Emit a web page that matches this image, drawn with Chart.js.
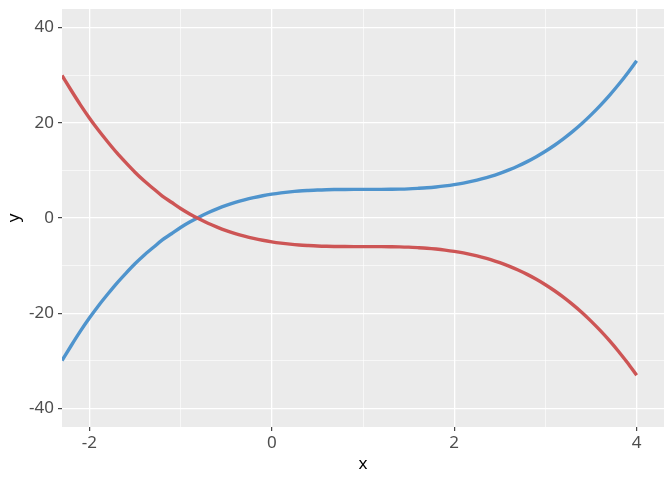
<!DOCTYPE html>
<html>
<head>
<meta charset="utf-8">
<script src="https://cdn.jsdelivr.net/npm/chart.js@4"></script>
<style>
  html, body { margin: 0; padding: 0; background: #ffffff; }
  #wrap { width: 672px; height: 480px; }
</style>
</head>
<body>
<div id="wrap"><canvas id="chart"></canvas></div>
<script>
// values
const xValues = [-2.3, -2.2, -2.1, -2.0, -1.9, -1.8, -1.7, -1.6, -1.5, -1.4, -1.3, -1.2, -1.1, -1.0,
  -0.9, -0.8, -0.7, -0.6, -0.5, -0.4, -0.3, -0.2, -0.1, 0.0, 0.1, 0.2, 0.3, 0.4, 0.5, 0.6, 0.7,
  0.8, 0.9, 1.0, 1.1, 1.2, 1.3, 1.4, 1.5, 1.6, 1.7, 1.8, 1.9, 2.0, 2.1, 2.2, 2.3, 2.4, 2.5, 2.6,
  2.7, 2.8, 2.9, 3.0, 3.1, 3.2, 3.3, 3.4, 3.5, 3.6, 3.7, 3.8, 3.9, 4.0];

const blueY = [-29.9, -26.8, -23.8, -21.0, -18.4, -16.0, -13.7, -11.6, -9.6, -7.8, -6.2, -4.6, -3.3, -2.0,
  -0.86, 0.17, 1.09, 1.9, 2.63, 3.26, 3.8, 4.27, 4.67, 5.0, 5.27, 5.49, 5.66, 5.78, 5.88, 5.94, 5.97,
  5.99, 6.0, 6.0, 6.0, 6.01, 6.03, 6.06, 6.12, 6.22, 6.34, 6.51, 6.73, 7.0, 7.33, 7.73, 8.2, 8.74, 9.38, 10.1,
  10.91, 11.83, 12.86, 14.0, 15.26, 16.65, 18.17, 19.82, 21.63, 23.58, 25.68, 27.95, 30.39, 33.0];

const redY = [29.9, 26.8, 23.8, 21.0, 18.4, 16.0, 13.7, 11.6, 9.6, 7.8, 6.2, 4.6, 3.3, 2.0,
  0.86, -0.17, -1.09, -1.9, -2.63, -3.26, -3.8, -4.27, -4.67, -5.0, -5.27, -5.49, -5.66, -5.78, -5.88, -5.94, -5.97,
  -5.99, -6.0, -6.0, -6.0, -6.01, -6.03, -6.06, -6.12, -6.22, -6.34, -6.51, -6.73, -7.0, -7.33, -7.73, -8.2, -8.74, -9.38, -10.1,
  -10.91, -11.83, -12.86, -14.0, -15.26, -16.65, -18.17, -19.82, -21.63, -23.58, -25.68, -27.95, -30.39, -33.0];

const xTicks = [-2, -1, 0, 1, 2, 3, 4];
const yTicks = [-40, -30, -20, -10, 0, 10, 20, 30, 40];
const xLabeled = [-2, 0, 2, 4];
const yLabeled = [-40, -20, 0, 20, 40];

const FONT = '"Noto Sans", "DejaVu Sans", sans-serif';

// grey panel behind the grid
const panelBg = {
  id: 'panelBg',
  beforeDraw(chart) {
    const { ctx, chartArea: a } = chart;
    ctx.save();
    ctx.fillStyle = '#ebebeb';
    ctx.fillRect(a.left, a.top, a.right - a.left, a.bottom - a.top);
    ctx.restore();
  }
};

const toPoints = ys => xValues.map((x, i) => ({ x: x, y: ys[i] }));

const gridFor = labeled => ({
  color: '#ffffff',
  lineWidth: c => labeled.includes(c.tick.value) ? 1.3 : 0.6,
  drawTicks: true,
  tickLength: 4,
  tickColor: c => labeled.includes(c.tick.value) ? '#333333' : 'rgba(0,0,0,0)',
  tickWidth: 1.1
});

new Chart(document.getElementById('chart'), {
  type: 'line',
  data: {
    datasets: [
      {
        label: 'red',
        data: toPoints(redY),
        borderColor: '#cd5555',
        borderWidth: 3.4,
        pointRadius: 0,
        cubicInterpolationMode: 'monotone',
        fill: false
      },
      {
        label: 'blue',
        data: toPoints(blueY),
        borderColor: '#4f94cd',
        borderWidth: 3.4,
        pointRadius: 0,
        cubicInterpolationMode: 'monotone',
        fill: false
      }
    ]
  },
  options: {
    responsive: true,
    maintainAspectRatio: false,
    animation: false,
    layout: { padding: { top: 9, right: 8, left: 0, bottom: 0 } },
    plugins: {
      legend: { display: false },
      tooltip: { enabled: false }
    },
    scales: {
      x: {
        type: 'linear',
        min: -2.3,
        max: 4.3,
        afterBuildTicks: s => { s.ticks = xTicks.map(v => ({ value: v })); },
        afterFit: s => { s.height = 53; s.paddingLeft = 0; s.paddingRight = 0; },
        border: { display: false },
        grid: gridFor(xLabeled),
        ticks: {
          autoSkip: false,
          maxRotation: 0,
          padding: 2,
          color: '#4d4d4d',
          font: { family: FONT, size: 17 },
          callback: v => xLabeled.includes(v) ? String(v) : ''
        },
        title: {
          display: true,
          text: 'x',
          color: '#000000',
          font: { family: FONT, size: 17 },
          padding: { top: 2, bottom: 6 }
        }
      },
      y: {
        type: 'linear',
        min: -43.85,
        max: 43.85,
        afterBuildTicks: s => { s.ticks = yTicks.map(v => ({ value: v })); },
        afterFit: s => { s.width = 62; s.paddingTop = 0; s.paddingBottom = 0; },
        border: { display: false },
        grid: gridFor(yLabeled),
        ticks: {
          autoSkip: false,
          padding: 4,
          color: '#4d4d4d',
          font: { family: FONT, size: 17 },
          callback: v => yLabeled.includes(v) ? String(v) : ''
        },
        title: {
          display: true,
          text: 'y',
          color: '#000000',
          font: { family: FONT, size: 17 },
          padding: { top: 4, bottom: 2 }
        }
      }
    }
  },
  plugins: [panelBg]
});
</script>
</body>
</html>
